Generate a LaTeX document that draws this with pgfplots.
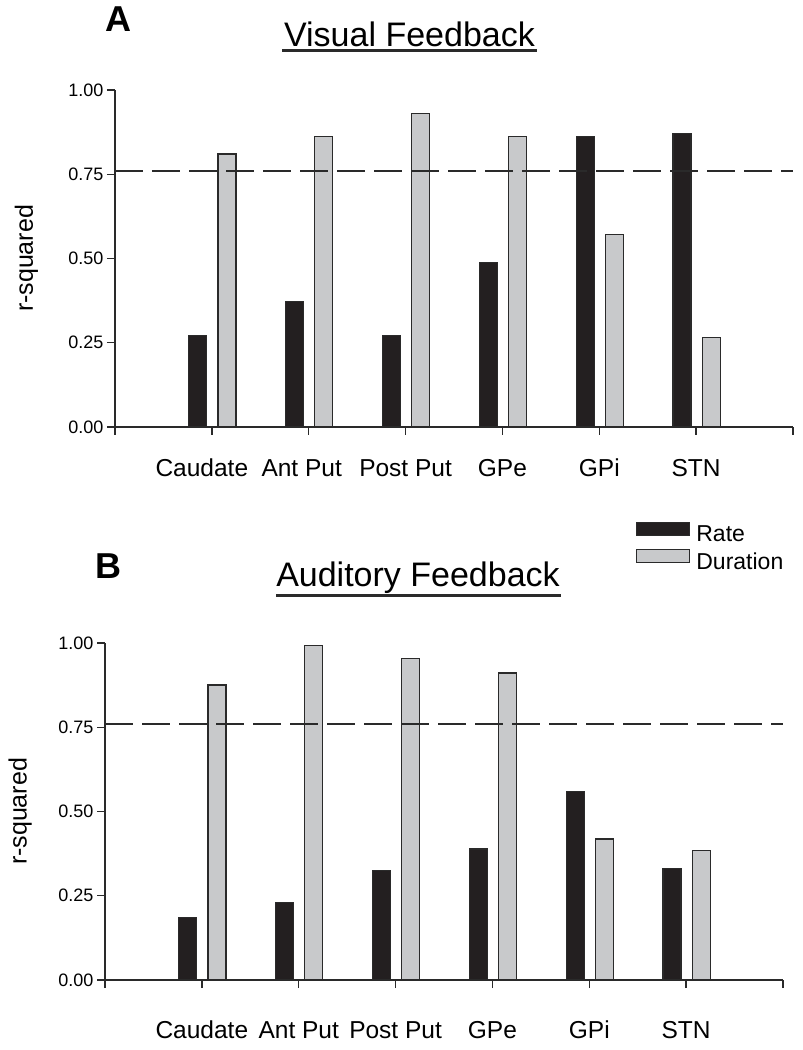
\documentclass[border=0pt]{standalone}
\usepackage{fontspec}
\setmainfont{Liberation Sans}
\usepackage{pgfplots}
\usepackage{pgfplotstable}
\pgfplotsset{compat=1.18}
\definecolor{barblack}{HTML}{231F20}
\definecolor{bargrey}{HTML}{C8C9CB}
\definecolor{lineg}{HTML}{2A2A2A}

\pgfplotstableread{
x rate dur
1 0.272 0.810
2 0.372 0.861
3 0.272 0.931
4 0.488 0.861
5 0.861 0.572
6 0.870 0.266
}\dataA
\pgfplotstableread{
x rate dur
1 0.185 0.875
2 0.231 0.992
3 0.325 0.955
4 0.389 0.911
5 0.560 0.418
6 0.330 0.384
}\dataB

\pgfplotsset{
  legbox/.style={legend image code/.code={\draw[##1, line width=1.3pt] (0pt,-1pt) rectangle (53pt,12pt); \path (57pt,0pt);}},
  panel/.style={
    scale only axis, width=678pt, height=337pt,
    xmin=0, xmax=7, ymin=0, ymax=1, enlargelimits=false,
    axis x line*=bottom, axis y line*=left,
    axis line style={lineg, line width=1.4pt, -},
    tick align=outside, major tick length=8pt,
    every tick/.style={lineg, line width=1.4pt},
    xtick={0,1,2,3,4,5,6,7},
    ytick={0,0.25,0.5,0.75,1},
    /pgf/number format/assume math mode=true,
    yticklabel style={/pgf/number format/fixed, /pgf/number format/fixed zerofill, /pgf/number format/precision=2, font=\fontsize{18}{21}\selectfont},
    xticklabel style={font=\fontsize{24.5}{28}\selectfont, anchor=base},
    ylabel={r-squared},
    ylabel style={font=\fontsize{25}{30}\selectfont, anchor=center},
    rateplot/.style={ybar, bar width=0.186, bar shift=-0.145, fill=barblack, draw=lineg, line width=1.3pt, legbox},
    durplot/.style={ybar, bar width=0.186, bar shift=0.155, fill=bargrey, draw=lineg, line width=1.3pt, legbox},
    thresh/.style={lineg, line width=1.5pt, dash pattern=on 28pt off 9pt, forget plot},
  }
}

\begin{document}
\begin{tikzpicture}[x=1pt,y=1pt]
\path[use as bounding box] (0,0) rectangle (803,1050);

% Panel A
\node[anchor=base west, inner sep=0pt, font=\fontsize{36}{40}\selectfont\bfseries] at (105,1018) {A};
\node[anchor=base, inner sep=0pt, font=\fontsize{34}{40}\selectfont] at (409.5,1003) {Visual Feedback};
\draw[line width=3pt, lineg] (282,999) -- (537,999);

\begin{axis}[panel, at={(115pt,623pt)}, anchor=south west,
  xticklabels={,{\kern-20pt Caudate},{\kern-14pt Ant Put},Post Put,GPe,GPi,STN,},
  ylabel style={at={(axis description cs:-0.1305,0.5)}},
  xticklabel style={yshift=-42pt}]
\addplot[rateplot] table[x=x, y=rate] {\dataA};
\addplot[durplot] table[x=x, y=dur] {\dataA};
\addplot[thresh] coordinates {(0,0.76) (7,0.76)};
\end{axis}

% Panel B
\node[anchor=base west, inner sep=0pt, font=\fontsize{36}{40}\selectfont\bfseries] at (95,471) {B};
\node[anchor=base, inner sep=0pt, font=\fontsize{34}{40}\selectfont] at (418,463) {Auditory Feedback};
\draw[line width=3pt, lineg] (276,454) -- (561,454);

\begin{axis}[panel, at={(105pt,70pt)}, anchor=south west,
  xticklabels={,Caudate,Ant Put,Post Put,GPe,GPi,STN,},
  ylabel style={at={(axis description cs:-0.125,0.5)}},
  xticklabel style={yshift=-50pt},
  legend style={draw=none, fill=none, at={(axis description cs:0.783,1.36)}, anchor=north west,
    font=\fontsize{23}{26}\selectfont, inner sep=0pt, row sep=4pt, legend cell align=left}]
\addplot[rateplot] table[x=x, y=rate] {\dataB};
\addlegendentry{Rate}
\addplot[durplot] table[x=x, y=dur] {\dataB};
\addlegendentry{Duration}
\addplot[thresh] coordinates {(0,0.76) (7,0.76)};
\end{axis}
\end{tikzpicture}
\end{document}
